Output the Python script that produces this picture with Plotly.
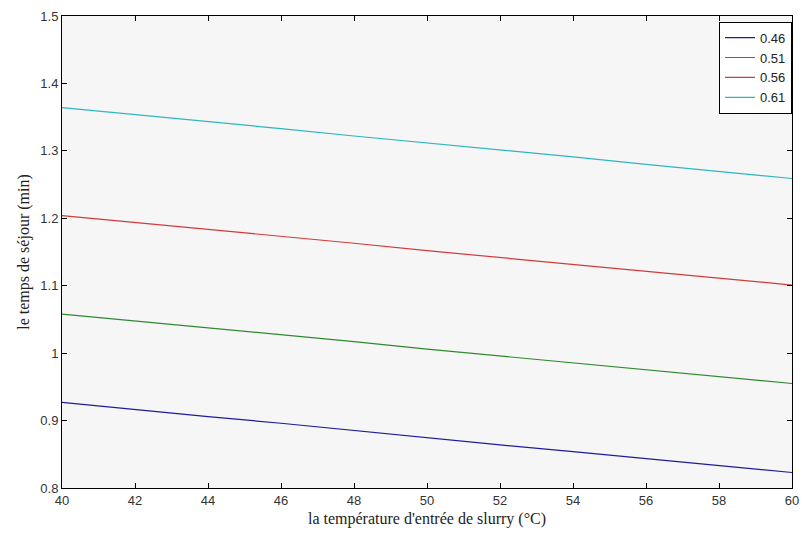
import plotly.graph_objects as go

# Inlet slurry temperature (°C)
temperature = [40, 42, 44, 46, 48, 50, 52, 54, 56, 58, 60]

# Residence time (min) for each parameter value
series_labels = ["0.46", "0.51", "0.56", "0.61"]
time_046 = [0.927, 0.916, 0.906, 0.896, 0.885, 0.875, 0.864, 0.854, 0.844, 0.833, 0.823]
time_051 = [1.058, 1.048, 1.037, 1.027, 1.017, 1.006, 0.996, 0.986, 0.976, 0.965, 0.955]
time_056 = [1.204, 1.194, 1.183, 1.173, 1.163, 1.152, 1.142, 1.132, 1.122, 1.111, 1.101]
time_061 = [1.364, 1.354, 1.343, 1.333, 1.322, 1.312, 1.301, 1.291, 1.280, 1.270, 1.259]

x_ticks = [40, 42, 44, 46, 48, 50, 52, 54, 56, 58, 60]
y_ticks = [0.8, 0.9, 1.0, 1.1, 1.2, 1.3, 1.4, 1.5]
y_ticktext = ["0.8", "0.9", "1", "1.1", "1.2", "1.3", "1.4", "1.5"]

colors = ["#1c1c9c", "#2f8a2f", "#d23a3a", "#2fb6bf"]

fig = go.Figure()
for label, values, color in zip(series_labels,
                                [time_046, time_051, time_056, time_061],
                                colors):
    fig.add_trace(go.Scatter(
        x=temperature, y=values, mode="lines", name=label,
        line=dict(color=color, width=1.2),
    ))

axis_common = dict(
    showgrid=False, zeroline=False,
    showline=True, linecolor="black", linewidth=1, mirror="ticks",
    ticks="inside", ticklen=5, tickcolor="black", tickwidth=1,
    tickfont=dict(family="Liberation Sans, Arial, sans-serif", size=13, color="#333333"),
    title_font=dict(family="Liberation Serif, Times New Roman, serif", size=16, color="#222222"),
)

fig.update_xaxes(
    range=[40, 60], tickvals=x_ticks,
    title_text="la température d'entrée de slurry (°C)", title_standoff=6,
    **axis_common,
)
fig.update_yaxes(
    range=[0.8, 1.5], tickvals=y_ticks, ticktext=y_ticktext,
    title_text="le temps de séjour (min)", title_standoff=6,
    **axis_common,
)

fig.update_layout(
    width=807, height=533,
    margin=dict(l=62, r=8, t=16, b=45),
    paper_bgcolor="white",
    plot_bgcolor="#f6f6f6",
    showlegend=True,
    legend=dict(
        x=1.0, y=0.988, xanchor="right", yanchor="top",
        bgcolor="white", bordercolor="black", borderwidth=1,
        font=dict(family="Liberation Sans, Arial, sans-serif", size=13, color="#222222"),
        tracegroupgap=0, itemwidth=30,
    ),
)

fig.write_html("out.html")
